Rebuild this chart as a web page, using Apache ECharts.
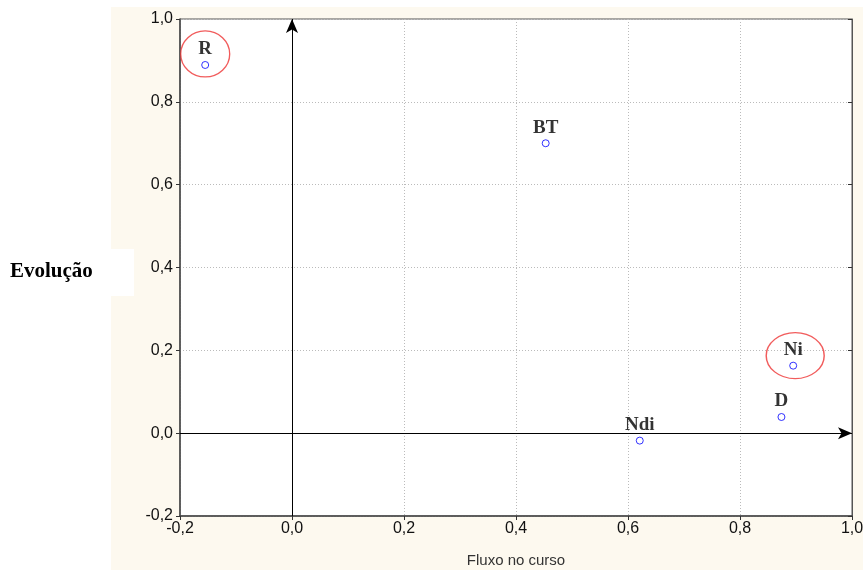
<!DOCTYPE html>
<html><head><meta charset="utf-8">
<script src="https://cdn.jsdelivr.net/npm/echarts@6/dist/echarts.min.js"></script>
<style>html,body{margin:0;padding:0;background:#fff}#c{width:863px;height:570px}</style>
</head><body><div id="c"></div>
<script>
const names = ['R','BT','Ndi','D','Ni'];
const xValues = [-0.155, 0.453, 0.621, 0.874, 0.895];
const yValues = [0.889, 0.700, -0.018, 0.039, 0.163];
const highlighted = ['R','Ni'];
const xTitle = 'Fluxo no curso';
const yTitle = 'Evolução';

const pts = names.map((n,i)=>({name:n, value:[xValues[i], yValues[i]]}));
const hl = pts.filter(p=>highlighted.includes(p.name));
const fmt = v => v.toFixed(1).replace('.', ',');

const chart = echarts.init(document.getElementById('c'), null, {renderer:'canvas'});
chart.setOption({
  animation:false,
  backgroundColor:'#ffffff',
  graphic:[
    {type:'rect', z:-10, shape:{x:111,y:7,width:752,height:563}, style:{fill:'#fdf9ef'}},
    {type:'rect', z:-9, shape:{x:180,y:19,width:672,height:497}, style:{fill:'#ffffff'}},
    {type:'rect', z:5, shape:{x:0,y:249,width:134,height:47}, style:{fill:'#ffffff'}},
    {type:'text', z:6, left:10, top:261, style:{text:yTitle, font:'bold 21px "Liberation Serif"', fill:'#000'}}
  ],
  grid:{left:180, top:19, width:672, height:497, containLabel:false, outerBoundsMode:'none',
    show:true, borderColor:'#555', borderWidth:1, backgroundColor:'transparent'},
  xAxis:[{type:'value', min:-0.2, max:1.0, interval:0.2,
    name:xTitle, nameLocation:'middle', nameGap:37,
    nameTextStyle:{fontFamily:'Liberation Sans', fontSize:15, color:'#333'},
    axisLine:{onZero:false, lineStyle:{color:'#444', width:1.5}},
    axisTick:{show:true, length:4, lineStyle:{color:'#333'}},
    axisLabel:{formatter:fmt, fontFamily:'Liberation Sans', fontSize:16, color:'#111', margin:5},
    splitLine:{show:true, lineStyle:{type:[1,2], color:'#bbb'}}
  }],
  yAxis:[{type:'value', min:-0.2, max:1.0, interval:0.2,
    axisLine:{onZero:false, lineStyle:{color:'#444', width:1.5}},
    axisTick:{show:true, length:4, lineStyle:{color:'#333'}},
    axisLabel:{formatter:fmt, fontFamily:'Liberation Sans', fontSize:16, color:'#111', margin:7},
    splitLine:{show:true, lineStyle:{type:[1,2], color:'#bbb'}}
  },{type:'value', min:-0.2, max:1.0, interval:0.2, position:'right',
    axisLine:{show:true, onZero:false, lineStyle:{color:'#555'}},
    axisTick:{show:true, inside:true, length:4, lineStyle:{color:'#333'}},
    axisLabel:{show:false}, splitLine:{show:false}
  }],
  series:[
    {type:'scatter', data:pts, symbol:'circle', symbolSize:7,
     itemStyle:{color:'rgba(0,0,0,0)', borderColor:'#0000ff', borderWidth:1},
     label:{show:true, position:'top', distance:2, formatter:p=>p.name,
       fontFamily:'Liberation Serif', fontWeight:'bold', fontSize:19, color:'#000'},
     markLine:{silent:true, symbol:['none','arrow'], symbolSize:[9,14], label:{show:false},
       lineStyle:{color:'#000', width:1, type:'solid'},
       data:[
         [{coord:[0,-0.2]},{coord:[0,1.0]}],
         [{coord:[-0.2,0]},{coord:[1.0,0]}]
       ]},
     z:4},
    {type:'scatter', data:hl, symbol:'circle',
     symbolSize:(v,p)=> p.name==='Ni' ? [58,46] : [49,46],
     symbolOffset:(v,p)=> p.name==='Ni' ? [2,-10] : [0,-11],
     itemStyle:{color:'rgba(0,0,0,0)', borderColor:'#ee3333', borderWidth:1.3},
     silent:true, z:3}
  ]
});
</script></body></html>
